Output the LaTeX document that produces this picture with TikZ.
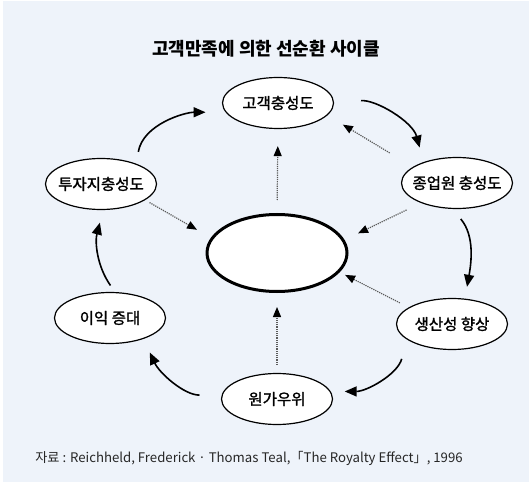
\documentclass[tikz,border=0pt]{standalone}
\usepackage{fontspec}
\setmainfont{Noto Sans CJK KR}
\newfontfamily\stagefont[FakeBold=1.5]{Noto Sans CJK KR}
\usepackage{tikz}
\usetikzlibrary{arrows.meta,shapes.geometric}
\usepackage{xcolor}
\definecolor{cyclebg}{RGB}{238,243,250}
\definecolor{cyclegray}{RGB}{90,90,90}

\begin{document}
\begin{tikzpicture}[x=1pt,y=1pt,>={Triangle[length=12pt,width=10pt]},line join=round,
  stage/.style={ellipse,draw,line width=1.2pt,fill=white,minimum width=111pt,minimum height=51pt,
    inner xsep=-16pt,inner ysep=0pt,font=\stagefont\fontsize{15.5}{18}\selectfont},
  cycarrow/.style={->,line width=1.6pt},
  dotarrow/.style={-{Triangle[length=10pt,width=8pt,color=black]},cyclegray,densely dotted,line width=1.2pt}]
  \useasboundingbox (0,0) rectangle (529,482);
  \fill[cyclebg] (3,0) rectangle (529,481);
  \node[font=\bfseries\fontsize{18}{21}\selectfont] (title) at (266,433) {고객만족에 의한 선순환 사이클};
  \node[stage] (loyal) at (278,379) {고객충성도};
  \node[stage] (staff) at (457,299) {종업원 충성도};
  \node[stage] (invest) at (101,298) {투자지충성도};
  \node[stage] (profit) at (110,164) {이익 증대};
  \node[stage] (product) at (452,158) {생산성 향상};
  \node[stage] (cost) at (277,83) {원가우위};
  \node[ellipse,draw,line width=3pt,fill=white,minimum width=140pt,minimum height=77pt] (core) at (277,229) {};
  \node[text=black!85,font=\fontsize{13.2}{15}\selectfont] (source) at (249,24)
    {자료 : Reichheld, Frederick · Thomas Teal,「The Royalty Effect」, 1996};

  \draw[cycarrow,shorten <=12pt,shorten >=20pt] (invest.30) to[out=80,in=180] (loyal.190);
  \draw[cycarrow,shorten <=27pt,shorten >=15pt] (loyal.east) to[out=5,in=105] (staff.148);
  \draw[cycarrow,shorten <=13pt,shorten >=12pt] (staff.-100) to[out=-50,in=80] (product.63);
  \draw[cycarrow,shorten <=20pt,shorten >=14pt] (product.199) to[out=-105,in=0] (cost.8);
  \draw[cycarrow,shorten <=22pt,shorten >=15pt] (cost.176) to[out=180,in=-65] (profit.-32.5);
  \draw[cycarrow,shorten <=8pt,shorten >=13pt] (profit.79) to[out=125,in=-105] (invest.-85);

  \draw[dotarrow,shorten <=13pt,shorten >=17pt] (core.north) -- (loyal.south);
  \draw[dotarrow,shorten <=27pt,shorten >=18pt] (staff.160) -- (loyal.-14.5);
  \draw[dotarrow,shorten <=5pt,shorten >=16pt] (invest.-20) -- (core.167);
  \draw[dotarrow,shorten <=16pt,shorten >=15pt] (staff.209.6) -- (core.11.3);
  \draw[dotarrow,shorten <=10pt,shorten >=6pt] (product.159) -- (core.-17);
  \draw[dotarrow,shorten <=8pt,shorten >=14pt] (cost.north) -- (core.south);
\end{tikzpicture}
\end{document}
